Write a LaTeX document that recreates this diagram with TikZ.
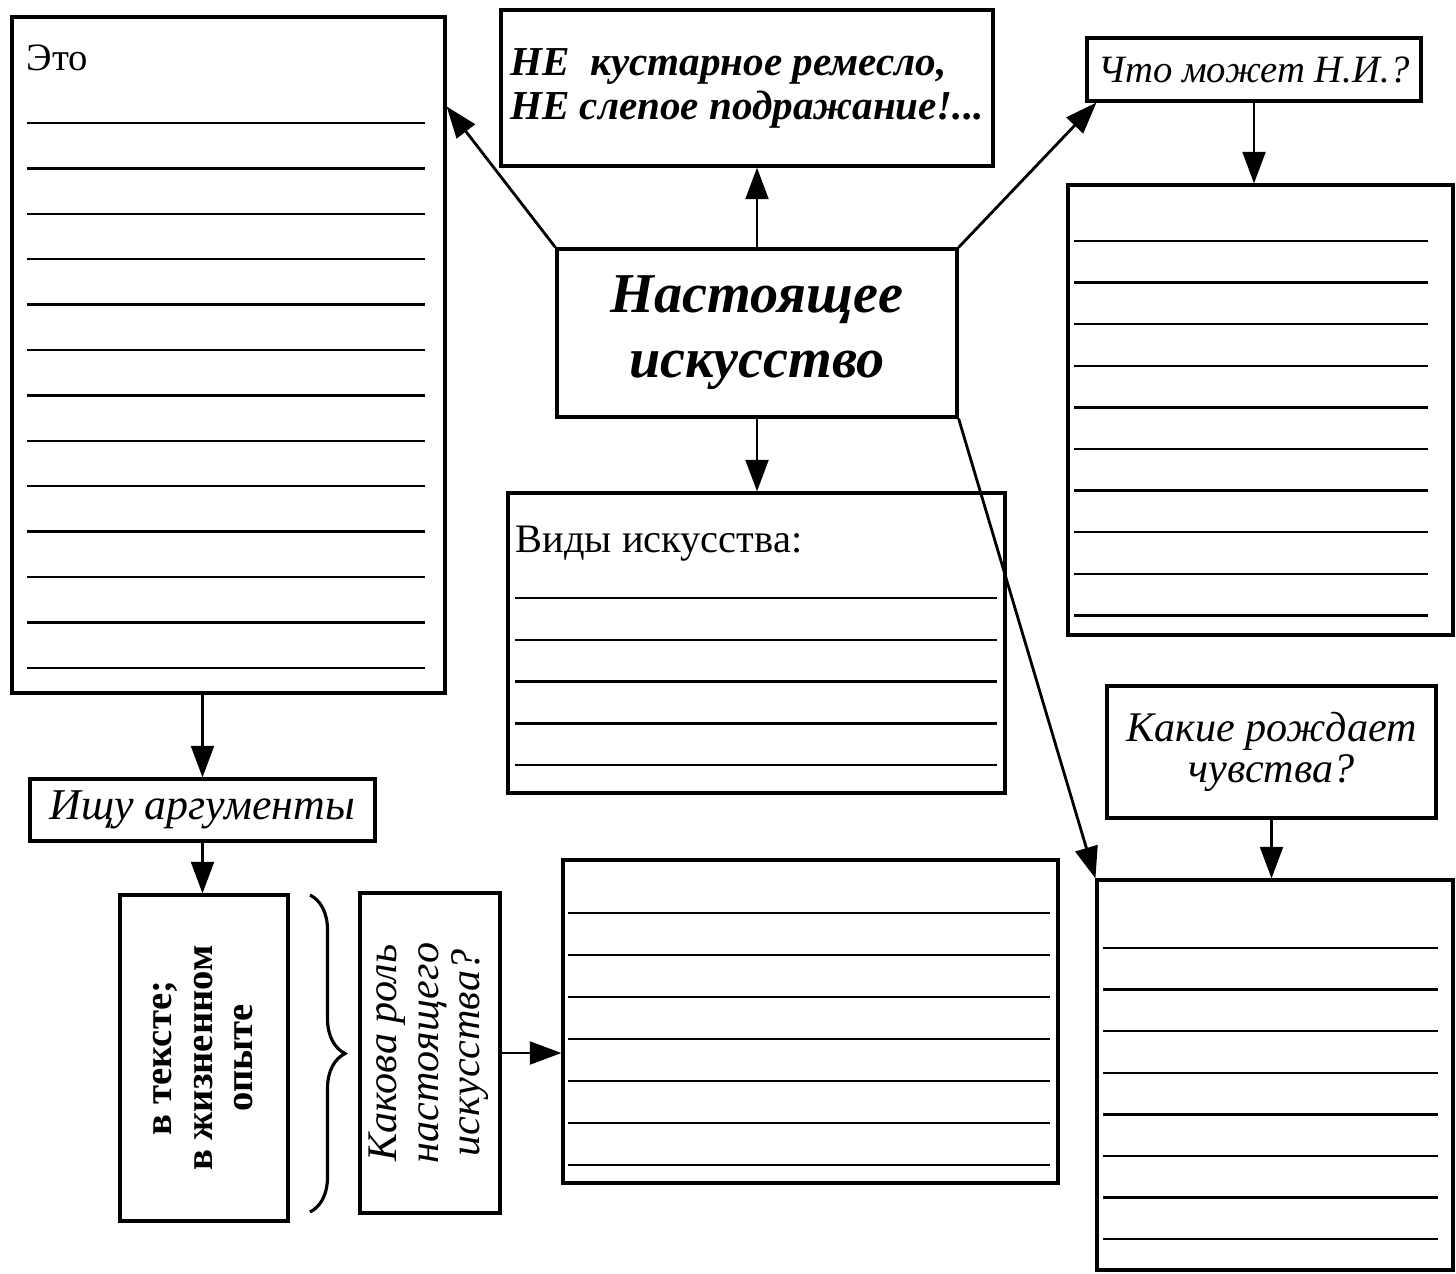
\documentclass[tikz,border=0pt]{standalone}
\usepackage{fontspec}
\usepackage{graphicx}
\setmainfont{Liberation Serif}
\usetikzlibrary{arrows.meta,decorations.pathreplacing}

\tikzset{
  box/.style={draw, line width=0.9pt, inner sep=0pt},
  rule/.style={line width=0.7pt},
  arr/.style={line width=0.8pt, -{Triangle[length=9pt,width=6.5pt]}},
}

\begin{document}
\begin{tikzpicture}
    \useasboundingbox (0,0) rectangle (14.56,-12.73);

    % boxes
    \node[box, minimum width=4.33cm, minimum height=6.76cm] (eto) at (2.285,-3.55) {};
    \node[anchor=base west, inner sep=0pt, font=\fontsize{11}{13}\selectfont] (etotxt) at (0.26,-0.70) {Это};

    \node[box, minimum width=4.92cm, minimum height=1.56cm, align=left,
          font=\bfseries\itshape\fontsize{11.7}{12.5}\selectfont] (ne) at (7.47,-0.88)
          {НЕ~~кустарное ремесло,\\НЕ слепое подражание!...};

    \node[box, minimum width=3.34cm, minimum height=0.63cm, font=\itshape\fontsize{11}{13}\selectfont] (chto) at (12.54,-0.695) {Что может Н.И.?};
    \node[box, minimum width=3.85cm, minimum height=4.50cm] (rup) at (12.605,-4.10) {};

    \node[box, minimum width=4.00cm, minimum height=1.68cm, align=center,
          font=\bfseries\itshape\fontsize{16}{18.5}\selectfont] (central) at (7.57,-3.33)
          {Настоящее\\искусство};

    \node[box, minimum width=4.97cm, minimum height=3.00cm] (vidy) at (7.565,-6.43) {};
    \node[anchor=base west, inner sep=0pt, font=\fontsize{11.5}{13}\selectfont] (vidytxt) at (5.15,-5.52) {Виды искусства:};

    \node[box, minimum width=3.45cm, minimum height=0.62cm, font=\itshape\fontsize{12.5}{15}\selectfont] (isch) at (2.025,-8.10) {Ищу аргументы};

    \node[box, minimum width=1.68cm, minimum height=3.26cm, font=\bfseries\fontsize{11}{11.5}\selectfont] (vtekste) at (2.04,-10.58)
          {\rotatebox{90}{\begin{tabular}{@{}c@{}}в тексте;\\в жизненном\\опыте\end{tabular}}};

    \node[box, minimum width=1.40cm, minimum height=3.20cm, font=\itshape\fontsize{12}{11.8}\selectfont] (kakova) at (4.30,-10.53)
          {\rotatebox{90}{\begin{tabular}{@{}c@{}}Какова роль\\настоящего\\искусства?\end{tabular}}};

    \node[box, minimum width=4.95cm, minimum height=3.23cm] (lowm) at (8.105,-10.215) {};

    \node[box, minimum width=3.29cm, minimum height=1.32cm, align=center, font=\itshape\fontsize{12}{11.5}\selectfont] (kakie) at (12.715,-7.52)
          {Какие рождает\\чувства?};
    \node[box, minimum width=3.56cm, minimum height=3.90cm] (lowr) at (12.75,-10.75) {};

    % ruled lines
    \foreach \y in {0,...,12}
        \draw[rule] (0.27,-1.23-0.454*\y) -- (4.25,-1.23-0.454*\y);
    \foreach \y in {0,...,9}
        \draw[rule] (10.74,-2.41-0.416*\y) -- (14.28,-2.41-0.416*\y);
    \foreach \y in {0,...,4}
        \draw[rule] (5.15,-5.98-0.418*\y) -- (9.97,-5.98-0.418*\y);
    \foreach \y in {0,...,6}
        \draw[rule] (5.68,-9.13-0.42*\y) -- (10.50,-9.13-0.42*\y);
    \foreach \y in {0,...,7}
        \draw[rule] (11.03,-9.48-0.416*\y) -- (14.38,-9.48-0.416*\y);

    % brace
    \coordinate (brtop) at (3.10,-8.95);
    \coordinate (brbot) at (3.10,-12.12);
    \draw[line width=0.9pt, decorate, decoration={brace, amplitude=0.35cm}] (brtop) -- (brbot);

    % arrows
    \draw[arr] (central.north west) -- ([yshift=-0.91cm]eto.north east);
    \draw[arr] (central.north) -- (central.north |- ne.south);
    \draw[arr] (central.north east) -- ([xshift=0.11cm]chto.south west);
    \draw[arr] (chto.south) -- (chto.south |- rup.north);
    \draw[arr] (central.south) -- (central.south |- vidy.north);
    \draw[arr] (central.south east) -- (lowr.north west);
    \draw[arr] (isch.north |- eto.south) -- (isch.north);
    \draw[arr] (isch.south) -- (isch.south |- vtekste.north);
    \draw[arr] (kakova.east) -- (kakova.east -| lowm.west);
    \draw[arr] (kakie.south) -- (kakie.south |- lowr.north);

\end{tikzpicture}
\end{document}
